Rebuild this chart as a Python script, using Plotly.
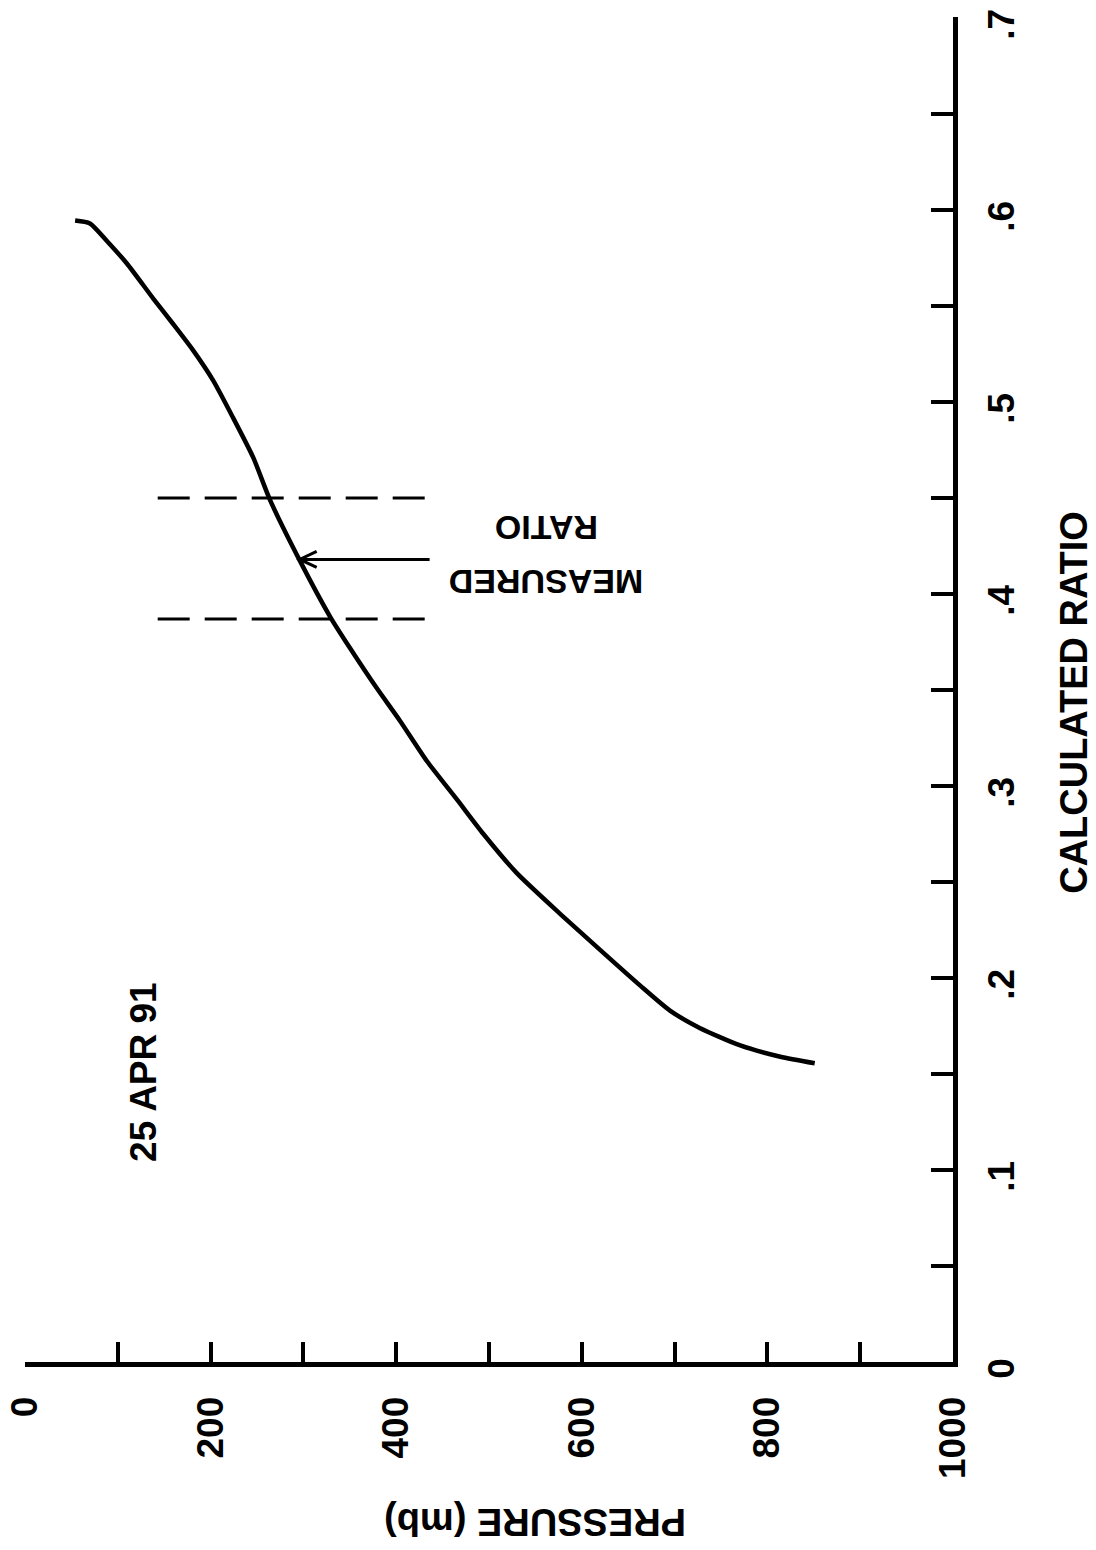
import plotly.graph_objects as go

# ---- data ----
curve_pressure = [54, 70, 88, 110, 138, 159, 181, 203, 224, 246, 264, 296, 329, 350,
                  379, 404, 433, 466, 494, 530, 576, 620, 663, 695, 727, 770, 814, 851]
curve_ratio = [0.5945, 0.593, 0.584, 0.572, 0.554, 0.541, 0.527, 0.511, 0.492, 0.471,
               0.449, 0.4175, 0.388, 0.372, 0.351, 0.334, 0.313, 0.2926, 0.275, 0.2546,
               0.2337, 0.2145, 0.196, 0.183, 0.174, 0.165, 0.159, 0.1556]

measured_band = [0.387, 0.45]          # dashed limits of measured ratio
band_pressure = [143, 432]             # horizontal extent of dashed lines
measured_value = 0.418                 # arrow level
arrow_pressure = [436, 296]            # arrow tail -> head

pressure_ticks = [0, 100, 200, 300, 400, 500, 600, 700, 800, 900, 1000]
pressure_labels = ["0", "", "200", "", "400", "", "600", "", "800", "", "1000"]
ratio_ticks = [0, 0.05, 0.1, 0.15, 0.2, 0.25, 0.3, 0.35, 0.4, 0.45, 0.5, 0.55, 0.6, 0.65, 0.7]
ratio_labels = ["0", "", ".1", "", ".2", "", ".3", "", ".4", "", ".5", "", ".6", "", ".7"]

FONT = "Liberation Sans, Arial, sans-serif"

fig = go.Figure()
fig.add_trace(go.Scatter(
    x=curve_pressure, y=curve_ratio, mode="lines",
    line=dict(color="black", width=4.5, shape="spline", smoothing=0.6),
    showlegend=False, hoverinfo="skip"))

shapes = []
for r in measured_band:
    shapes.append(dict(type="line", xref="x", yref="y",
                       x0=band_pressure[0], x1=band_pressure[1], y0=r, y1=r,
                       line=dict(color="black", width=3, dash="32px,15px")))
shapes.append(dict(type="line", xref="x", yref="y",
                   x0=arrow_pressure[0], x1=arrow_pressure[1],
                   y0=measured_value, y1=measured_value,
                   line=dict(color="black", width=3)))
shapes.append(dict(type="path", xref="x", yref="y",
                   xsizemode="pixel", ysizemode="pixel",
                   xanchor=arrow_pressure[1], yanchor=measured_value,
                   path="M 17,8 L 0,0 L 17,-8",
                   line=dict(color="black", width=3)))

def ann(text, xref, yref, x, y, angle, size):
    return dict(text=text, xref=xref, yref=yref, x=x, y=y, textangle=angle,
                xanchor="center", yanchor="middle", showarrow=False,
                font=dict(family=FONT, size=size, color="black", weight="bold"))

annotations = [
    ann("CALCULATED RATIO", "paper", "y", 1.131, 0.3436, -90, 38),
    ann("PRESSURE (mb)", "paper", "paper", 0.5496, -0.119, 180, 38),
    ann("25 APR 91", "x", "y", 127, 0.151, -90, 37),
    ann("MEASURED", "x", "y", 561, 0.4066, 180, 34),
    ann("RATIO", "x", "y", 562, 0.4341, 180, 34),
]

fig.update_layout(
    width=1096, height=1550,
    margin=dict(l=25, r=143, t=17, b=188, autoexpand=False),
    paper_bgcolor="white", plot_bgcolor="white",
    shapes=shapes, annotations=annotations,
    xaxis=dict(range=[0, 1000], showgrid=False, zeroline=False, automargin=False,
               showline=True, linecolor="black", linewidth=5,
               ticks="inside", ticklen=20, tickwidth=4, tickcolor="black",
               tickvals=pressure_ticks, ticktext=pressure_labels,
               tickangle=-90, ticklabelstandoff=15, ticklabeloverflow="allow",
               tickfont=dict(family=FONT, size=37, color="black", weight="bold")),
    yaxis=dict(range=[0, 0.7005], side="right", showgrid=False, zeroline=False,
               automargin=False,
               showline=True, linecolor="black", linewidth=5,
               ticks="inside", ticklen=22, tickwidth=4, tickcolor="black",
               tickvals=ratio_ticks, ticktext=ratio_labels,
               tickangle=-90, ticklabelstandoff=12, ticklabelshift=12,
               ticklabeloverflow="allow",
               tickfont=dict(family=FONT, size=37, color="black", weight="bold")),
)

# remove the browser's default 8px body margin so the figure fills the window exactly
fig.write_html("out.html",
               config={"displayModeBar": False},
               post_script="document.body.style.margin='0';document.body.style.overflow='hidden';")
